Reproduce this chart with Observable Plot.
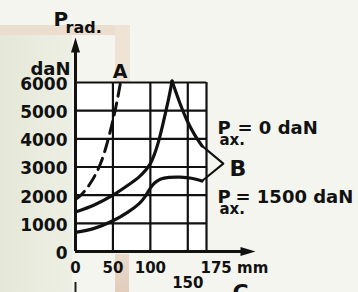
<!DOCTYPE html>
<html>
<head>
<meta charset="utf-8">
<script src="https://cdn.jsdelivr.net/npm/d3@7"></script>
<script src="https://cdn.jsdelivr.net/npm/@observablehq/plot@0.6"></script>
<style>
  html, body { margin: 0; padding: 0; }
  body { width: 358px; height: 292px; overflow: hidden; background: #f3f5ee; }
  #wrap { position: relative; width: 358px; height: 292px; }
  .bg { position: absolute; }
  #chart { position: absolute; left: 0; top: 0; }
</style>
</head>
<body>
<div id="wrap">
  <div class="bg" style="left:0;top:35px;width:72px;height:257px;background:linear-gradient(90deg,#e5e8d7,#edefe4);"></div>
  <div class="bg" style="left:0;top:25px;width:130px;height:10px;background:#ecdece;"></div>
  <div class="bg" style="left:115px;top:25px;width:15px;height:57px;background:#efe3d5;"></div>
  <div class="bg" style="left:115px;top:254px;width:14px;height:38px;background:linear-gradient(180deg,#ead9c9,#e2cdbb);"></div>
  <div id="chart"></div>
</div>
<script>
// ---- data ----
// x ticks (mm) and y ticks (daN)
const xTicks = [0, 50, 100, 150, 175];
const yTicks = [0, 1000, 2000, 3000, 4000, 5000, 6000];

// Curve A (dashed)
const curveAx = [0, 5, 10, 15, 20, 25, 30, 35, 40, 45, 50, 55, 60];
const curveAy = [1850, 1950, 2080, 2240, 2430, 2650, 2910, 3230, 3640, 4120, 4660, 5270, 5980];

// Pax = 0 daN, rising branch and falling branch
const pax0RiseX = [0, 25, 50, 70, 85, 90, 95, 100, 105, 110, 115, 120, 125, 129];
const pax0RiseY = [1400, 1650, 2000, 2350, 2650, 2780, 2930, 3120, 3420, 3820, 4330, 4900, 5500, 6050];
const pax0FallX = [129, 139, 149, 159, 169];
const pax0FallY = [6050, 5300, 4650, 4150, 3750];

// Pax = 1500 daN
const pax1500X = [0, 25, 50, 70, 85, 93, 100, 106, 114, 125, 140, 155, 169];
const pax1500Y = [680, 820, 1090, 1400, 1700, 1950, 2250, 2440, 2570, 2630, 2640, 2600, 2500];

// bracket joining both curves to label B
const bracketX = [169, 197.5, 169];
const bracketY = [3750, 3120, 2500];

const zip = (xs, ys) => xs.map((x, i) => ({x, y: ys[i]}));
const curveA = zip(curveAx, curveAy);
const rise0 = zip(pax0RiseX, pax0RiseY);
const fall0 = zip(pax0FallX, pax0FallY);
const p1500 = zip(pax1500X, pax1500Y);
const bracket = zip(bracketX, bracketY);

const arrowHead = {
  draw(ctx) {
    ctx.moveTo(0, 0);
    ctx.lineTo(-4.5, 15);
    ctx.lineTo(4.5, 15);
    ctx.closePath();
  }
};

const F = "DejaVu Sans";
const lbl = (text, opts) => Plot.text([text], {
  frameAnchor: "top-left", text: d => d, lineAnchor: "bottom",
  textAnchor: "start", fill: "#111", fontWeight: "bold", ...opts
});

const chart = Plot.plot({
  width: 358,
  height: 292,
  marginLeft: 75,
  marginRight: 152,
  marginTop: 82,
  marginBottom: 41,
  x: {domain: [0, 175]},
  y: {domain: [0, 6000]},
  style: {background: "transparent", fontFamily: F, fontWeight: "bold", overflow: "visible", color: "#111"},
  marks: [
    Plot.frame({fill: "white", stroke: null}),
    // grid
    Plot.ruleY(yTicks, {x1: 0, x2: 175, stroke: "#111", strokeWidth: 2.2}),
    Plot.ruleX(xTicks, {y1: 0, y2: 6000, stroke: "#111", strokeWidth: 2.2}),
    // axes with arrows
    Plot.ruleX([0], {stroke: "#111", strokeWidth: 3, insetTop: -32}),
    Plot.ruleY([0], {stroke: "#111", strokeWidth: 3, insetRight: -36}),
    Plot.dot([0], {x: d => d, frameAnchor: "top", dy: -45, symbol: arrowHead, fill: "#111", stroke: null}),
    Plot.dot([0], {y: d => d, frameAnchor: "right", dx: 49, symbol: arrowHead, rotate: 90, fill: "#111", stroke: null}),
    Plot.ruleX([0], {stroke: "#222", strokeWidth: 2, insetTop: 200, insetBottom: -41}),
    // tick labels
    Plot.axisY(yTicks, {tickSize: 0, tickPadding: 8, dy: 2, fontSize: 17, fontWeight: "bold", label: null, tickFormat: d => String(d), fill: "#111"}),
    Plot.axisX([0, 50, 100], {tickSize: 0, tickPadding: 11, fontSize: 15, fontWeight: "bold", label: null, tickFormat: d => String(d), fill: "#111"}),
    Plot.axisX([175], {tickSize: 0, tickPadding: 11, fontSize: 15, fontWeight: "bold", label: null, textAnchor: "start", dx: -6, tickFormat: d => d + " mm", fill: "#111"}),
    Plot.axisX([150], {tickSize: 0, tickPadding: 26, fontSize: 15, fontWeight: "bold", label: null, tickFormat: d => String(d), fill: "#111"}),
    // curves
    Plot.line(curveA, {x: "x", y: "y", curve: "catmull-rom", stroke: "#111", strokeWidth: 3, strokeDasharray: "12,7"}),
    Plot.line(rise0, {x: "x", y: "y", curve: "catmull-rom", stroke: "#111", strokeWidth: 3.2}),
    Plot.line(fall0, {x: "x", y: "y", curve: "catmull-rom", stroke: "#111", strokeWidth: 3.2}),
    Plot.line(p1500, {x: "x", y: "y", curve: "catmull-rom", stroke: "#111", strokeWidth: 3.2}),
    Plot.line(bracket, {x: "x", y: "y", stroke: "#111", strokeWidth: 2}),
    // labels
    lbl("P", {dx: -22, dy: -57, fontSize: 20}),
    lbl("rad.", {dx: -10, dy: -50, fontSize: 16}),
    lbl("daN", {dx: -5, dy: -8, fontSize: 18, textAnchor: "end"}),
    lbl("A", {dx: 44.5, dy: -5, fontSize: 19, textAnchor: "middle"}),
    lbl("P", {dx: 142, dy: 51, fontSize: 18}),
    lbl("ax.", {dx: 144, dy: 62, fontSize: 15}),
    lbl("= 0 daN", {dx: 162, dy: 51, fontSize: 18}),
    lbl("B", {dx: 154, dy: 93, fontSize: 22}),
    lbl("P", {dx: 142, dy: 120, fontSize: 18}),
    lbl("ax.", {dx: 144, dy: 131, fontSize: 15}),
    lbl("= 1500 daN", {dx: 160, dy: 120, fontSize: 18}),
    lbl("C", {dx: 157, dy: 217, fontSize: 22})
  ]
});
document.getElementById("chart").appendChild(chart);
</script>
</body>
</html>
